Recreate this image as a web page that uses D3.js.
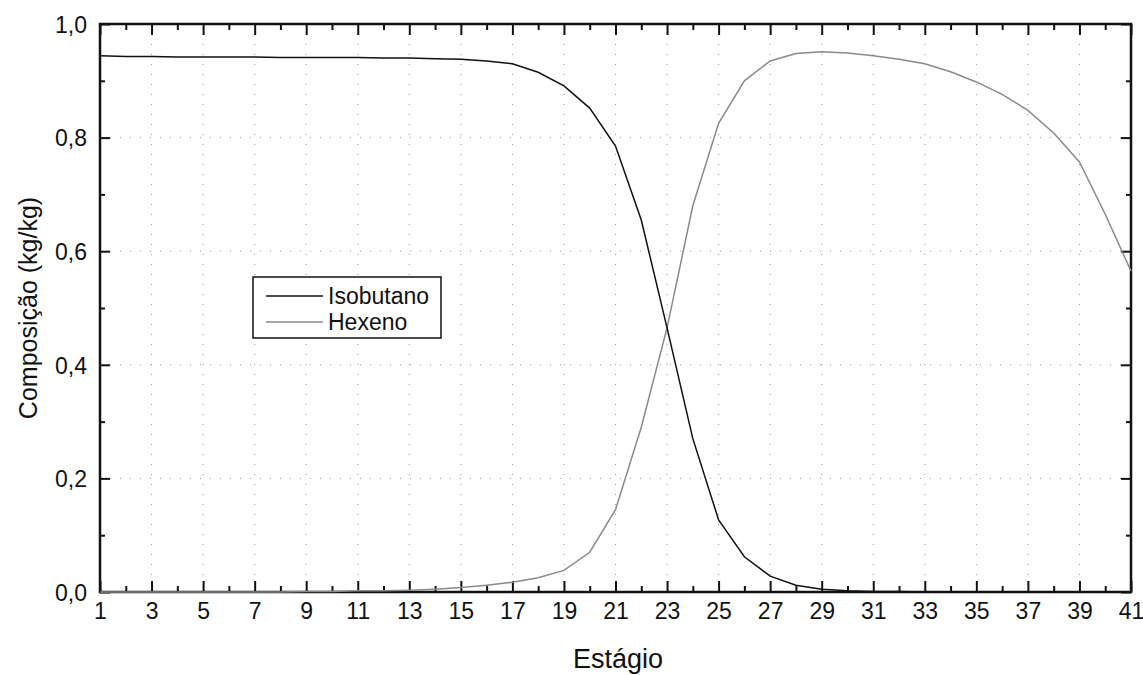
<!DOCTYPE html>
<html>
<head>
<meta charset="utf-8">
<script src="https://cdn.jsdelivr.net/npm/d3@7"></script>
<style>
  html, body { margin: 0; padding: 0; background: #fff; overflow: hidden; }
  svg { display: block; }
  text { font-family: "Liberation Sans", Arial, sans-serif; fill: #111; }
</style>
</head>
<body>
<div id="chart"></div>
<script>
const stages = d3.range(1, 42);

const isobutano = [
  0.944, 0.943, 0.943, 0.942, 0.942, 0.942, 0.942, 0.941, 0.941, 0.941,
  0.941, 0.940, 0.940, 0.939, 0.938, 0.935, 0.930, 0.915, 0.891, 0.852,
  0.785, 0.655, 0.465, 0.270, 0.127, 0.062, 0.028, 0.012, 0.005, 0.002,
  0.001, 0.001, 0.000, 0.000, 0.000, 0.000, 0.000, 0.000, 0.000, 0.000,
  0.000
];

const hexeno = [
  0.000, 0.000, 0.000, 0.000, 0.000, 0.000, 0.000, 0.000, 0.001, 0.001,
  0.002, 0.002, 0.003, 0.005, 0.008, 0.012, 0.017, 0.025, 0.038, 0.070,
  0.145, 0.290, 0.465, 0.680, 0.825, 0.900, 0.935, 0.948, 0.951, 0.949,
  0.944, 0.938, 0.930, 0.916, 0.898, 0.876, 0.848, 0.808, 0.757, 0.665,
  0.565
];

const xTicks = d3.range(1, 42, 2);
const yTicks = [0, 0.2, 0.4, 0.6, 0.8, 1.0];

const seriesNames = ["Isobutano", "Hexeno"];
const seriesColors = { "Isobutano": "#111", "Hexeno": "#8a8a8a" };

const width = 1143, height = 675;
const margin = { top: 24, right: 12, bottom: 83, left: 100 };
const innerWidth = width - margin.left - margin.right;
const innerHeight = height - margin.top - margin.bottom;

const svg = d3.select("#chart").append("svg")
  .attr("width", width)
  .attr("height", height);

const g = svg.append("g")
  .attr("transform", `translate(${margin.left},${margin.top})`);

const x = d3.scaleLinear().domain([1, 41]).range([0, innerWidth]);
const y = d3.scaleLinear().domain([0, 1]).range([innerHeight, 0]);

const fmt = d => d3.format(".1f")(d).replace(".", ",");

// grade pontilhada
g.append("g").selectAll("line")
  .data(xTicks.slice(1, -1))
  .join("line")
  .attr("x1", d => x(d)).attr("x2", d => x(d))
  .attr("y1", 0).attr("y2", innerHeight)
  .attr("stroke", "#999").attr("stroke-width", 1)
  .attr("stroke-dasharray", "1 9");

g.append("g").selectAll("line")
  .data(yTicks.slice(1, -1))
  .join("line")
  .attr("x1", 0).attr("x2", innerWidth)
  .attr("y1", d => y(d)).attr("y2", d => y(d))
  .attr("stroke", "#999").attr("stroke-width", 1)
  .attr("stroke-dasharray", "1 9");

// eixos
const xMinor = d3.range(2, 41, 2);
const yMinor = [0.1, 0.3, 0.5, 0.7, 0.9];

const xAxis = g.append("g")
  .attr("transform", `translate(0,${innerHeight})`)
  .call(d3.axisBottom(x).tickValues(xTicks).tickSizeInner(-11).tickSizeOuter(0).tickPadding(0).tickFormat(d3.format("d")));

g.append("g")
  .attr("transform", `translate(0,${innerHeight})`)
  .call(d3.axisBottom(x).tickValues(xMinor).tickSizeInner(-6).tickSizeOuter(0).tickFormat(""));

g.append("g")
  .call(d3.axisTop(x).tickValues(xTicks).tickSizeInner(-11).tickSizeOuter(0).tickFormat(""));
g.append("g")
  .call(d3.axisTop(x).tickValues(xMinor).tickSizeInner(-6).tickSizeOuter(0).tickFormat(""));

const yAxis = g.append("g")
  .call(d3.axisLeft(y).tickValues(yTicks).tickSizeInner(-10).tickSizeOuter(0).tickPadding(0).tickFormat(fmt));
g.append("g")
  .call(d3.axisLeft(y).tickValues(yMinor).tickSizeInner(-5).tickSizeOuter(0).tickFormat(""));

g.append("g")
  .attr("transform", `translate(${innerWidth},0)`)
  .call(d3.axisRight(y).tickValues(yTicks).tickSizeInner(-10).tickSizeOuter(0).tickFormat(""));
g.append("g")
  .attr("transform", `translate(${innerWidth},0)`)
  .call(d3.axisRight(y).tickValues(yMinor).tickSizeInner(-5).tickSizeOuter(0).tickFormat(""));

g.selectAll(".domain").remove();
g.selectAll(".tick line").attr("stroke", "#111").attr("stroke-width", 2);
g.selectAll(".tick text").style("font-size", "23px").attr("fill", "#111");
xAxis.selectAll(".tick text").attr("y", 27).attr("dy", null);
yAxis.selectAll(".tick text").attr("x", -13).attr("dy", "0.36em");

// moldura
g.append("rect")
  .attr("x", 0).attr("y", 0)
  .attr("width", innerWidth).attr("height", innerHeight)
  .attr("fill", "none").attr("stroke", "#111").attr("stroke-width", 2.5);

// curvas
const line = d3.line()
  .x((d, i) => x(stages[i]))
  .y(d => y(d));

g.append("path").datum(hexeno)
  .attr("fill", "none")
  .attr("stroke", seriesColors["Hexeno"])
  .attr("stroke-width", 1.5)
  .attr("d", line);

g.append("path").datum(isobutano)
  .attr("fill", "none")
  .attr("stroke", seriesColors["Isobutano"])
  .attr("stroke-width", 1.5)
  .attr("d", line);

// rótulos
svg.append("text")
  .attr("x", 618)
  .attr("y", 668)
  .attr("text-anchor", "middle")
  .style("font-size", "27px")
  .text("Estágio");

svg.append("text")
  .attr("transform", `translate(37,${margin.top + innerHeight / 2}) rotate(-90)`)
  .attr("text-anchor", "middle")
  .style("font-size", "25px")
  .text("Composição (kg/kg)");

// legenda
const legend = svg.append("g").attr("transform", "translate(253,277)");
legend.append("rect")
  .attr("width", 188).attr("height", 61)
  .attr("fill", "#fff").attr("stroke", "#111").attr("stroke-width", 1.5);

seriesNames.forEach((name, i) => {
  const ly = 19 + i * 26;
  legend.append("line")
    .attr("x1", 13).attr("x2", 70)
    .attr("y1", ly).attr("y2", ly)
    .attr("stroke", seriesColors[name]).attr("stroke-width", 1.5);
  legend.append("text")
    .attr("x", 75).attr("y", ly)
    .attr("dy", "0.36em")
    .style("font-size", "23px")
    .text(name);
});
</script>
</body>
</html>
